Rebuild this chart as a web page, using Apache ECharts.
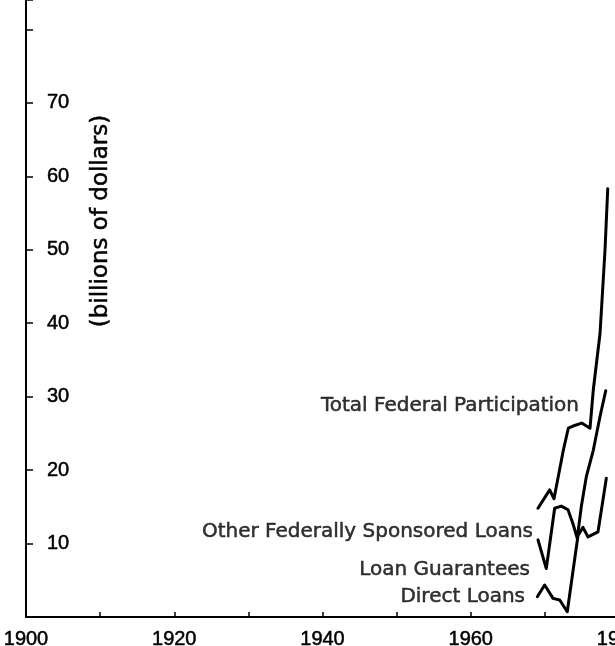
<!DOCTYPE html>
<html>
<head>
<meta charset="utf-8">
<script src="https://cdn.jsdelivr.net/npm/echarts@6/dist/echarts.min.js"></script>
<style>
html,body{margin:0;padding:0;background:#fff;}
#chart{width:615px;height:646px;}
</style>
</head>
<body>
<div id="chart"></div>
<script>
// ---- data (years, billions of dollars) ----
const totalYears  = [1969.07, 1970.65, 1971.23, 1972.49, 1973.16, 1973.8, 1974.97, 1976.09, 1976.53, 1977.44, 1978.11, 1978.48];
const totalValues = [14.8, 17.3, 16.1, 22.7, 25.7, 26.0, 26.4, 25.7, 30.9, 38.6, 49.9, 58.3];

const otherYears  = [1969.07, 1970.19, 1971.32, 1972.22, 1973.12, 1973.79, 1974.37, 1974.91, 1975.59, 1976.53, 1977.44, 1978.21];
const otherValues = [10.5, 6.6, 14.8, 15.1, 14.6, 12.7, 10.7, 15.0, 19.1, 22.7, 27.3, 30.8];

const directYears  = [1968.98, 1969.97, 1971.1, 1972.0, 1973.02, 1974.47, 1975.14, 1975.82, 1977.17, 1978.29];
const directValues = [2.76, 4.35, 2.54, 2.31, 0.72, 11.1, 12.2, 10.9, 11.6, 18.9];

const labelNames  = ['Total Federal Participation', 'Other Federally Sponsored Loans', 'Loan Guarantees', 'Direct Loans'];
const labelYears  = [1974.6, 1968.4, 1967.99, 1967.32];
const labelValues = [28.8, 11.6, 6.4, 2.8];

const xTickLabels = [1900, 1920, 1940, 1960, 1980];
const yTickLabels = [10, 20, 30, 40, 50, 60, 70];
const yAxisTitle = '(billions of dollars)';

// ---- chart ----
const pairs = (xs, ys) => xs.map((x, i) => [x, ys[i]]);
const lineStyle = { color: '#000', width: 3, join: 'round', cap: 'round' };
const ink = { color: '#000', textBorderColor: '#000', textBorderWidth: 0.5 };
const chart = echarts.init(document.getElementById('chart'), null, { renderer: 'canvas' });

chart.setOption({
  animation: false,
  backgroundColor: '#fff',
  grid: { left: 26, top: 0, width: 593, height: 617, containLabel: false, outerBoundsMode: 'none' },
  xAxis: {
    type: 'value', min: 1900, max: 1980, interval: 10,
    axisLine: { show: true, lineStyle: { color: '#000', width: 2 } },
    axisTick: { show: true, inside: true, length: 5, lineStyle: { color: '#000', width: 1.5 } },
    splitLine: { show: false },
    axisLabel: Object.assign({
      show: true, margin: 12, fontFamily: 'Liberation Sans', fontSize: 20,
      showMaxLabel: true, showMinLabel: true,
      formatter: v => xTickLabels.indexOf(Math.round(v)) >= 0 ? String(Math.round(v)) : ''
    }, ink)
  },
  yAxis: {
    type: 'value', min: 0, max: 84, interval: 10,
    axisLine: { show: true, lineStyle: { color: '#000', width: 2 } },
    axisTick: { show: true, inside: true, length: 7, lineStyle: { color: '#000', width: 1.5 } },
    splitLine: { show: false },
    axisLabel: Object.assign({
      show: true, inside: true, margin: 21, fontFamily: 'Liberation Sans', fontSize: 20,
      formatter: v => yTickLabels.indexOf(Math.round(v)) >= 0 ? String(Math.round(v)) : ''
    }, ink)
  },
  graphic: [{
    type: 'text', x: 101, y: 221, rotation: Math.PI / 2,
    style: { text: yAxisTitle, fill: '#000', stroke: '#000', lineWidth: 0.5, font: '23px "DejaVu Sans"', align: 'center', verticalAlign: 'middle' }
  }],
  series: [
    { type: 'line', name: 'Total', data: pairs(totalYears, totalValues), symbol: 'none', lineStyle: lineStyle, silent: true },
    { type: 'line', name: 'Other', data: pairs(otherYears, otherValues), symbol: 'none', lineStyle: lineStyle, silent: true },
    { type: 'line', name: 'Direct', data: pairs(directYears, directValues), symbol: 'none', lineStyle: lineStyle, silent: true },
    {
      type: 'scatter', name: 'labels', symbolSize: 0, silent: true,
      data: labelNames.map((n, i) => ({ name: n, value: [labelYears[i], labelValues[i]] })),
      label: Object.assign({
        show: true, position: 'left', distance: 0, formatter: p => p.name,
        fontFamily: 'DejaVu Sans', fontSize: 20
      }, ink)
    }
  ]
});
</script>
</body>
</html>
